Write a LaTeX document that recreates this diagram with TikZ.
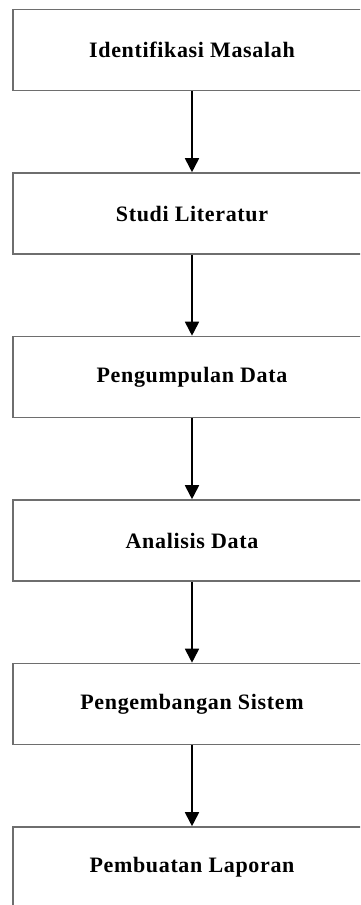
\documentclass[tikz,border=0pt]{standalone}
\usepackage{fontspec}
\setmainfont{Liberation Serif}
\usetikzlibrary{arrows.meta}
\definecolor{boxline}{RGB}{110,110,110}
\tikzset{
  stepbox/.style={draw=boxline, line width=1.6pt, minimum width=358pt, minimum height=81pt,
    inner sep=0pt, font=\fontsize{22}{25}\selectfont\bfseries\addfontfeature{LetterSpace=3}},
  flowarrow/.style={draw=black, line width=1.8pt, -{Triangle[width=14pt,length=14pt]}}
}
\begin{document}
\begin{tikzpicture}[x=1pt,y=-1pt]
\useasboundingbox (0,0) rectangle (360,905);
\clip (0,0) rectangle (360,905);
\node[stepbox] (s1) at (192,50) {Identifikasi Masalah};
\node[stepbox] (s2) at (192,213.5) {Studi Literatur};
\node[stepbox] (s3) at (192,377) {Pengumpulan Data};
\node[stepbox] (s4) at (192,540.5) {Analisis Data};
\node[stepbox] (s5) at (192,704) {Pengembangan Sistem};
\node[stepbox] (s6) at (192,867.5) {Pembuatan Laporan};
\draw[flowarrow] (s1) -- (s2);
\draw[flowarrow] (s2) -- (s3);
\draw[flowarrow] (s3) -- (s4);
\draw[flowarrow] (s4) -- (s5);
\draw[flowarrow] (s5) -- (s6);
\end{tikzpicture}
\end{document}
